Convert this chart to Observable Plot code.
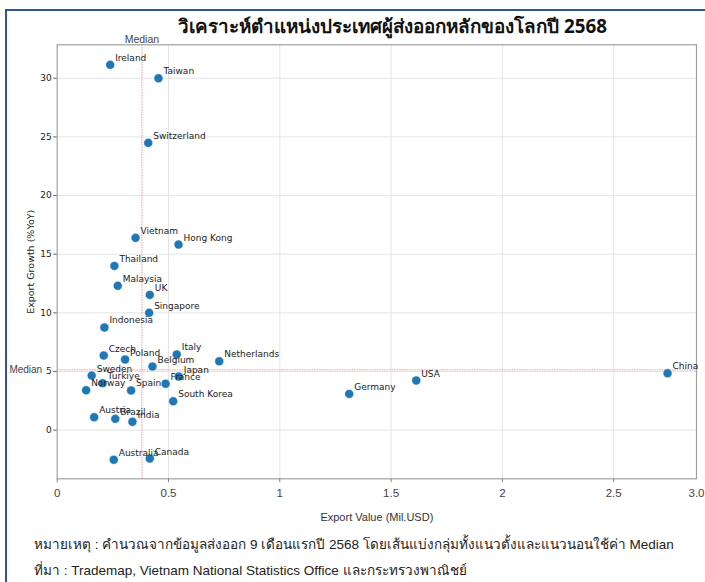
<!DOCTYPE html>
<html><head><meta charset="utf-8">
<script src="https://cdn.jsdelivr.net/npm/d3@7"></script>
<script src="https://cdn.jsdelivr.net/npm/@observablehq/plot@0.6"></script>
<style>
body{margin:0;background:#fff;width:705px;height:582px;overflow:hidden;position:relative;font-family:"Liberation Sans",Arial,sans-serif}
#frame{position:absolute;left:5px;top:9px;width:740px;height:640px;border:2.5px solid #2f5496;box-sizing:border-box;z-index:0}
#title{position:relative;z-index:2;height:30px;overflow:visible}
#title span{position:absolute;left:0;right:0;top:14px;text-align:center;font-size:18.8px;line-height:24px;font-weight:bold;color:#111;padding-left:80px;font-family:"Noto Sans","Liberation Sans",sans-serif}
#chart{position:relative;z-index:1;height:500px}
.cap{position:relative;z-index:1;font-size:13.5px;color:#222;padding-left:34px;line-height:26px;font-family:"Liberation Sans",Arial,sans-serif}
</style></head>
<body>
<div id="frame"></div>
<div id="title"><span>วิเคราะห์ตำแหน่งประเทศผู้ส่งออกหลักของโลกปี 2568</span></div>
<div id="chart"></div>
<div class="cap" style="margin-top:2px">หมายเหตุ : คำนวณจากข้อมูลส่งออก 9 เดือนแรกปี 2568 โดยเส้นแบ่งกลุ่มทั้งแนวตั้งและแนวนอนใช้ค่า Median</div>
<div class="cap">ที่มา : Trademap, Vietnam National Statistics Office และกระทรวงพาณิชย์</div>
<script>
const countries = ["Ireland","Taiwan","Switzerland","Vietnam","Hong Kong","Thailand","Malaysia","UK","Singapore","Indonesia","Czech","Poland","Italy","Netherlands","Belgium","Sweden","Turkiye","Japan","France","Norway","Spain","South Korea","Austria","Brazil","India","Australia","Canada","Germany","USA","China"];
const exportValue = [0.238,0.455,0.409,0.352,0.545,0.257,0.272,0.416,0.413,0.212,0.209,0.305,0.537,0.728,0.428,0.155,0.204,0.546,0.487,0.130,0.332,0.521,0.166,0.261,0.338,0.254,0.416,1.312,1.613,2.742];
const exportGrowth = [31.14,30.0,24.49,16.39,15.82,14.0,12.3,11.53,10.0,8.75,6.36,6.02,6.45,5.87,5.42,4.65,4.0,4.57,3.95,3.40,3.38,2.46,1.10,0.96,0.71,-2.53,-2.42,3.09,4.23,4.85];
const xTicks = [0,0.5,1,1.5,2,2.5,2.872];
const xTickLabels = ["0","0.5","1","1.5","2","2.5","3.0"];
const yTicks = [0,5,10,15,20,25,30];
const xDomain = [0,2.872];
const yDomain = [-4.15,32.85];

const data = countries.map((c,i)=>({country:c,x:exportValue[i],y:exportGrowth[i]}));
const medX = d3.median(exportValue), medY = d3.median(exportGrowth);
const dv = "DejaVu Sans";

const plot = Plot.plot({
  width:705, height:500,
  marginLeft:56.7, marginRight:9, marginTop:14.3, marginBottom:51.7,
  style:{background:"transparent",overflow:"visible"},
  x:{domain:xDomain},
  y:{domain:yDomain},
  marks:[
    Plot.gridX(xTicks.slice(1,6),{stroke:"#ddd",strokeOpacity:1,strokeWidth:0.8}),
    Plot.gridY(yTicks,{stroke:"#ddd",strokeOpacity:1,strokeWidth:0.8}),
    Plot.ruleX([medX],{stroke:"#f08080",strokeWidth:0.8,strokeDasharray:"1.5,1"}),
    Plot.ruleY([medY],{stroke:"#f08080",strokeWidth:0.8,strokeDasharray:"1.5,1"}),
    Plot.frame({stroke:"#a0a0a0",strokeWidth:1.2}),
    Plot.axisY({ticks:yTicks,tickSize:3.5,tickPadding:2,stroke:"#666",fontSize:9,fontFamily:dv,fill:"#222",label:null}),
    Plot.axisX({ticks:xTicks.slice(0,6),tickSize:4,stroke:"#888",tickFormat:()=>"",label:null}),
    Plot.axisX({ticks:xTicks,tickSize:0,tickPadding:10,fontSize:11.5,fill:"#444",fontFamily:"Liberation Sans",tickFormat:d=>xTickLabels[xTicks.indexOf(d)],label:null}),
    Plot.text(["Export Value (Mil.USD)"],{frameAnchor:"bottom",dy:42,fontSize:11,fill:"#333",fontFamily:"Liberation Sans"}),
    Plot.text(["Export Growth (%YoY)"],{frameAnchor:"left",textAnchor:"middle",dx:-26,rotate:-90,fontSize:9.5,fill:"#222",fontFamily:dv}),
    Plot.text(["Median"],{x:[medX],frameAnchor:"top",dy:-9,fontSize:10.5,fill:"#444",fontFamily:"Liberation Sans"}),
    Plot.text(["Median"],{y:[medY],frameAnchor:"left",textAnchor:"end",dx:-15,fontSize:10,fill:"#444",fontFamily:"Liberation Sans"}),
    Plot.dot(data,{x:"x",y:"y",r:4.5,fill:"#1f77b4",stroke:"white",strokeWidth:0.5}),
    Plot.text(data,{x:"x",y:"y",text:"country",textAnchor:"start",lineAnchor:"bottom",dx:5,dy:-4,fontSize:9,fill:"#222",fontFamily:dv})
  ]
});
document.getElementById("chart").appendChild(plot);
</script>
</body></html>
